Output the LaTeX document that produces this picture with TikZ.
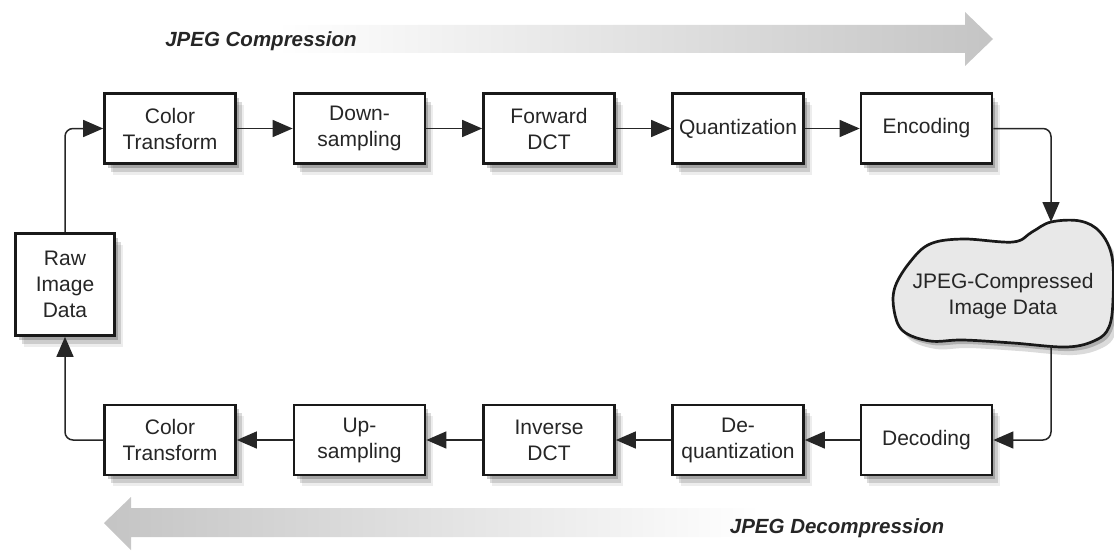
\documentclass[tikz,border=0pt]{standalone}
\usepackage{fontspec}
\setmainfont{Liberation Sans}
\usetikzlibrary{arrows.meta,shadows}
\pgfdeclarehorizontalshading{compshade}{100bp}{color(0bp)=(white); color(32bp)=(white); color(75bp)=(black!23); color(100bp)=(black!23)}
\pgfdeclarehorizontalshading{decompshade}{100bp}{color(0bp)=(black!23); color(25bp)=(black!23); color(64bp)=(white); color(100bp)=(white)}
\begin{document}
\begin{tikzpicture}[x=1pt,y=-1pt,
  txt/.style={font=\fontsize{21}{26}\selectfont, text=black!85, align=center},
  softshadow/.style={drop shadow={shadow xshift=3pt, shadow yshift=-4pt, fill=black, opacity=.2},
                     drop shadow={shadow xshift=6pt, shadow yshift=-8pt, fill=black, opacity=.14},
                     drop shadow={shadow xshift=8pt, shadow yshift=-11pt, fill=black, opacity=.07}},
  stage/.style={txt, draw=black!90, line width=2.7pt, fill=white, minimum width=131pt, minimum height=70pt, inner sep=0pt, softshadow},
  rawbox/.style={stage, minimum width=99pt, minimum height=102pt},
  conn/.style={line width=1.5pt, draw=black!85, rounded corners=8pt, -{Triangle[length=20pt,width=17pt]}},
  banner/.style={font=\fontsize{20.5}{24}\selectfont\bfseries\itshape, text=black!85, inner sep=0pt}
]
\useasboundingbox (0,0) rectangle (1114,551);

% big direction arrows
\path[shading=compshade] (160,25) -- (965,25) -- (965,12) -- (993,39) -- (965,66) -- (965,53) -- (160,53) -- cycle;
\path[shading=decompshade] (945,508) -- (131,508) -- (131,497) -- (104,523) -- (131,550) -- (131,537) -- (945,537) -- cycle;
\node[banner] (comp) at (261,41) {JPEG Compression};
\node[banner] (decomp) at (837,528) {JPEG Decompression};

% top row
\node[stage] (ct1) at (170,128.5) {Color\\Transform};
\node[stage] (ds)  at (359.5,128.5) {Down-\\sampling};
\node[stage] (fdct) at (549,128.5) {Forward\\DCT};
\node[stage] (qu) at (738,128.5) {Quantization};
\node[stage] (enc) at (926.5,128.5) {Encoding};

% bottom row
\node[stage] (ct2) at (170,440) {Color\\Transform};
\node[stage] (us)  at (359.5,440) {Up-\\sampling};
\node[stage] (idct) at (549,440) {Inverse\\DCT};
\node[stage] (dq) at (738,440) {De-\\quantization};
\node[stage] (dec) at (926.5,440) {Decoding};

% raw data
\node[rawbox] (raw) at (65,284.5) {Raw\\Image\\Data};

% cloud
\def\cloudpath{plot[smooth cycle, tension=0.6] coordinates {(1051,222) (1080,221) (1100,232) (1112,257) (1113,300) (1109,327) (1096,340) (1067,347) (1013,343) (963,340) (930,341) (903,331) (894,310) (895,287) (910,262) (930,244) (963,239) (1013,242) (1032,232)}}
\begin{scope}[shift={(3,4)}]
\fill[black, opacity=.2] \cloudpath;
\end{scope}
\begin{scope}[shift={(6,8)}]
\fill[black, opacity=.14] \cloudpath;
\end{scope}
\draw[line width=2.7pt, draw=black!90, fill=black!9] \cloudpath;
\node[txt, inner sep=0pt] (cloud) at (1003,296) {JPEG-Compressed\\Image Data};
\coordinate (cloudtop) at (1051,222);
\coordinate (cloudbot) at (1051,345);

% connectors
\draw[conn] (raw.north) |- (ct1.west);
\draw[conn] (ct1) -- (ds);
\draw[conn] (ds) -- (fdct);
\draw[conn] (fdct) -- (qu);
\draw[conn] (qu) -- (enc);
\draw[conn] (enc.east) -| (cloudtop);
\draw[conn] (cloudbot) |- (dec.east);
\draw[conn] (dec) -- (dq);
\draw[conn] (dq) -- (idct);
\draw[conn] (idct) -- (us);
\draw[conn] (us) -- (ct2);
\draw[conn] (ct2.west) -| (raw.south);
\end{tikzpicture}
\end{document}
